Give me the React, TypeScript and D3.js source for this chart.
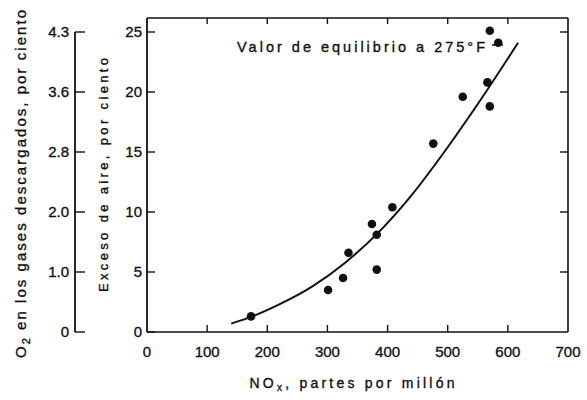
import React from "react";
import * as d3 from "d3";

// Observed data points (NOx ppm vs excess air %)
const noxValues = [173, 301, 326, 335, 374, 382, 382, 408, 476, 525, 566, 570, 570, 584];
const excessAir = [1.3, 3.5, 4.5, 6.6, 9.0, 8.1, 5.2, 10.4, 15.7, 19.6, 20.8, 18.8, 25.1, 24.1];

// Fitted curve
const curveNox = [140, 175, 220, 275, 330, 385, 440, 487, 550, 617];
const curveExcess = [0.7, 1.3, 2.3, 3.8, 5.8, 8.3, 11.4, 14.5, 19.0, 24.1];

// Axis ticks
const xTicks = [0, 100, 200, 300, 400, 500, 600, 700];
const yTicks = [0, 5, 10, 15, 20, 25];
const o2Labels = ["0", "1.0", "2.0", "2.8", "3.6", "4.3"];

const FONT = "'Liberation Sans', Arial, Helvetica, sans-serif";

export default function App() {
  const W = 587;
  const H = 400;
  const x = d3.scaleLinear().domain([0, 700]).range([147, 568]);
  const y = d3.scaleLinear().domain([0, 25]).range([332, 32]);
  const top = 18;
  const left = x(0);
  const right = x(700);
  const bottom = y(0);
  const o2x = 75;

  const line = d3
    .line<number>()
    .x((_, i) => x(curveNox[i]))
    .y((d) => y(d))
    .curve(d3.curveMonotoneX);

  const stroke = "#111";
  const heavy = { stroke: stroke, strokeWidth: 0.35 };

  return (
    <svg width={W} height={H} style={{ display: "block", position: "absolute", left: 0, top: 0, background: "#fff" }}>
      <rect x={0} y={0} width={W} height={H} fill="#fff" />
      {/* Frame */}
      <line x1={left} y1={top} x2={right} y2={top} stroke={stroke} strokeWidth={1.6} />
      <line x1={right} y1={top} x2={right} y2={bottom} stroke={stroke} strokeWidth={1.6} />
      <line x1={left} y1={bottom} x2={right} y2={bottom} stroke={stroke} strokeWidth={1.6} />
      <line x1={left} y1={top} x2={left} y2={bottom} stroke={stroke} strokeWidth={1.8} />

      {/* x ticks bottom and top */}
      {xTicks.slice(1, -1).map((t) => (
        <g key={"xt" + t}>
          <line x1={x(t)} y1={bottom} x2={x(t)} y2={bottom - 7} stroke={stroke} strokeWidth={1.4} />
          <line x1={x(t)} y1={top} x2={x(t)} y2={top + 6} stroke={stroke} strokeWidth={1.4} />
        </g>
      ))}
      {xTicks.map((t) => (
        <text key={"xl" + t} x={x(t)} y={bottom + 25} textAnchor="middle" fontFamily={FONT} fontSize={15} fill={stroke} {...heavy}>
          {t}
        </text>
      ))}

      {/* y ticks left and right */}
      {yTicks.map((t) => (
        <g key={"yt" + t}>
          <line x1={left} y1={y(t)} x2={left + 8} y2={y(t)} stroke={stroke} strokeWidth={1.4} />
          {t > 0 && <line x1={right} y1={y(t)} x2={right - 8} y2={y(t)} stroke={stroke} strokeWidth={1.4} />}
          <text x={left - 5} y={y(t) + 5} textAnchor="end" fontFamily={FONT} fontSize={15} fill={stroke} {...heavy}>
            {t}
          </text>
        </g>
      ))}

      {/* O2 axis */}
      <line x1={o2x} y1={y(25)} x2={o2x} y2={y(0)} stroke={stroke} strokeWidth={1.8} />
      {yTicks.map((t, i) => (
        <g key={"o2" + t}>
          <line x1={o2x} y1={y(t)} x2={o2x + 10} y2={y(t)} stroke={stroke} strokeWidth={1.4} />
          <text x={o2x - 6} y={y(t) + 5} textAnchor="end" fontFamily={FONT} fontSize={15} fill={stroke} {...heavy}>
            {o2Labels[i]}
          </text>
        </g>
      ))}

      {/* Axis titles */}
      <text
        transform={`translate(26, ${(10 + 358) / 2}) rotate(-90)`}
        textAnchor="middle"
        fontFamily={FONT}
        fontSize={15}
        fill={stroke}
        {...heavy}
        textLength={348}
        lengthAdjust="spacing"
      >
        O<tspan fontSize={11} dy={4}>2</tspan><tspan dy={-4}> en los gases descargados, por ciento</tspan>
      </text>
      <text
        transform={`translate(108, ${(58 + 292) / 2}) rotate(-90)`}
        textAnchor="middle"
        fontFamily={FONT}
        fontSize={13}
        fill={stroke}
        {...heavy}
        textLength={234}
        lengthAdjust="spacing"
      >
        Exceso de aire, por ciento
      </text>
      <text x={352} y={388} textAnchor="middle" fontFamily={FONT} fontSize={14} fill={stroke} {...heavy} textLength={205} lengthAdjust="spacing">
        NO<tspan fontSize={10} dy={3}>x</tspan><tspan dy={-3}>, partes por millón</tspan>
      </text>

      {/* Annotation */}
      <text x={237} y={52} fontFamily={FONT} fontSize={14.5} fill={stroke} {...heavy} textLength={248} lengthAdjust="spacing">
        Valor de equilibrio a 275°F
      </text>
      <line x1={492} y1={45} x2={506} y2={45} stroke={stroke} strokeWidth={1.4} strokeDasharray="4 3" />

      {/* Curve */}
      <path d={line(curveExcess) || ""} fill="none" stroke={stroke} strokeWidth={2} />

      {/* Points */}
      {noxValues.map((v, i) => (
        <circle key={"p" + i} cx={x(v)} cy={y(excessAir[i])} r={4.3} fill={stroke} />
      ))}
    </svg>
  );
}
